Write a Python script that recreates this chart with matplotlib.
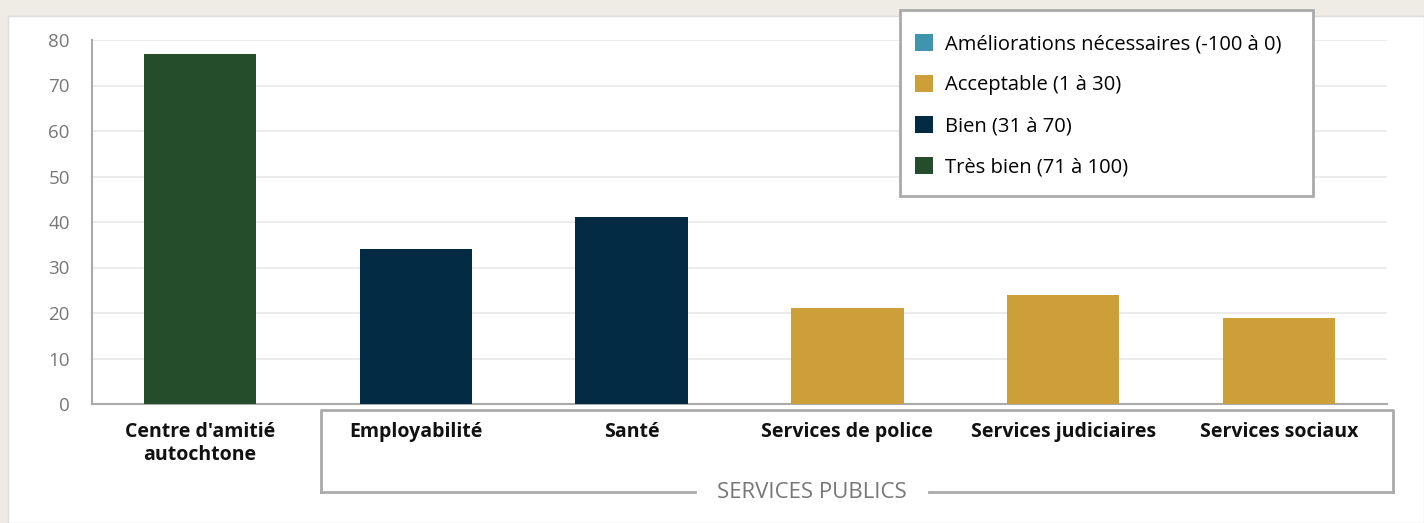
import matplotlib
matplotlib.use("Agg")
import matplotlib.pyplot as plt
from matplotlib.patches import Rectangle, Patch
from matplotlib.lines import Line2D

# Donnees du graphique
categories = ["Centre d'amitié\nautochtone", "Employabilité", "Santé",
              "Services de police", "Services judiciaires", "Services sociaux"]
valeurs = [77, 34, 41, 21, 24, 19]
niveaux = ["Très bien", "Bien", "Bien", "Acceptable", "Acceptable", "Acceptable"]
legende = ["Améliorations nécessaires (-100 à 0)", "Acceptable (1 à 30)",
           "Bien (31 à 70)", "Très bien (71 à 100)"]
couleurs = {"Améliorations": "#3e95ad", "Acceptable": "#cc9f38",
            "Bien": "#022a42", "Très bien": "#264d2b"}

plt.rcParams["font.family"] = ["Open Sans", "DejaVu Sans"]

fig = plt.figure(figsize=(14.24, 5.23), dpi=100)
fig.patch.set_facecolor("#efebe5")
W, H = 1424, 523

def fx(px):
    return px / W

def fy(py):
    return 1 - py / H

# panneau blanc
fig.patches.append(Rectangle((fx(8), 0), fx(1424 - 8), fy(16), transform=fig.transFigure,
                             facecolor="white", edgecolor="#dddddd", lw=1, zorder=0))

ax = fig.add_axes([fx(92), fy(404), fx(1387 - 92), (404 - 40) / H])
ax.set_zorder(2)
ax.set_facecolor("white")
x = range(len(categories))
ax.bar(x, valeurs, width=0.52, color=[couleurs[n] for n in niveaux], zorder=3)
ax.set_xlim(-0.5, len(categories) - 0.5)
ax.set_ylim(0, 80)
ax.set_yticks(range(0, 81, 10))
ax.yaxis.grid(True, color="#e9e9e9", lw=1.2, zorder=0)
for s in ["top", "right"]:
    ax.spines[s].set_visible(False)
ax.spines["left"].set_color("#aaaaaa")
ax.spines["bottom"].set_color("#aaaaaa")
ax.spines["left"].set_linewidth(1.5)
ax.spines["bottom"].set_linewidth(1.5)
ax.tick_params(axis="y", length=0, labelsize=13.5, labelcolor="#777777", pad=16)
ax.tick_params(axis="x", length=0, pad=13)
ax.set_xticks(list(x))
ax.set_xticklabels(categories, fontweight="bold", fontsize=14, color="#111111", linespacing=1.2)

# boite du groupe "SERVICES PUBLICS"
gris = "#aaaaaa"
x0, x1, y0, y1 = 321, 1393, 410, 492
fig.add_artist(Line2D([fx(x0), fx(x0), fx(x1), fx(x1)], [fy(y1), fy(y0), fy(y0), fy(y1)],
                      transform=fig.transFigure, color=gris, lw=2, zorder=3))
fig.add_artist(Line2D([fx(x0), fx(695)], [fy(y1), fy(y1)], transform=fig.transFigure,
                      color=gris, lw=2, zorder=3))
fig.add_artist(Line2D([fx(929), fx(x1)], [fy(y1), fy(y1)], transform=fig.transFigure,
                      color=gris, lw=2, zorder=3))
fig.text(fx(812), fy(y1), "SERVICES PUBLICS", ha="center", va="center", fontsize=16,
         color="#777777", zorder=3)

# legende (cadre dessine a part)
fig.patches.append(Rectangle((fx(900), fy(196)), fx(1313 - 900), (196 - 10) / H,
                             transform=fig.transFigure, facecolor="white",
                             edgecolor="#aaaaaa", lw=2, zorder=4))
poignees = [Patch(facecolor=c) for c in couleurs.values()]
leg = fig.legend(poignees, legende, loc="upper left", bbox_to_anchor=(fx(915), fy(34)),
                 frameon=False, fontsize=14.5, handlelength=0.9, handleheight=0.9,
                 handletextpad=0.6, labelspacing=1.03, borderpad=0, borderaxespad=0)
leg.set_zorder(5)

fig.savefig("out.png", dpi=100, facecolor=fig.get_facecolor())
